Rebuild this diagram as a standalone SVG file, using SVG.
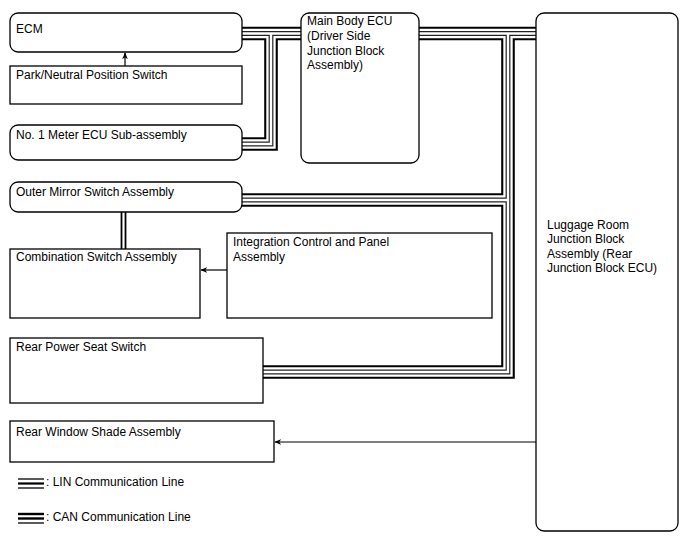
<svg xmlns="http://www.w3.org/2000/svg" width="688" height="560" viewBox="0 0 688 560">
<style>
text{font-family:"Liberation Sans",Arial,sans-serif;font-size:12px;fill:#000}
.box{fill:#fff;stroke:#000;stroke-width:1.3}
.l1{fill:none;stroke:#000;stroke-width:13.6;stroke-linejoin:miter}
.l2{fill:none;stroke:#fff;stroke-width:9.4;stroke-linejoin:miter}
.l3{fill:none;stroke:#222;stroke-width:4.8;stroke-linejoin:miter}
.l4{fill:none;stroke:#fff;stroke-width:2.4;stroke-linejoin:miter}
.arr{fill:none;stroke:#000;stroke-width:1.2}
</style>
<defs>
<marker id="ah" viewBox="0 0 10 10" refX="9" refY="5" markerWidth="7" markerHeight="7" orient="auto" markerUnits="userSpaceOnUse">
<path d="M0,1 L10,5 L0,9 L3,5 Z" fill="#000"/>
</marker>
<path id="pA" d="M242,33.5 H536"/>
<path id="pB" d="M271,33.5 V144 H242"/>
<path id="pC" d="M508,33.5 V372 H263"/>
<path id="pD" d="M508,200 H242"/>
</defs>
<g id="connectors">
<use href="#pA" class="l1"/><use href="#pB" class="l1"/><use href="#pC" class="l1"/><use href="#pD" class="l1"/>
<use href="#pA" class="l2"/><use href="#pB" class="l2"/><use href="#pC" class="l2"/><use href="#pD" class="l2"/>
<use href="#pA" class="l3"/><use href="#pB" class="l3"/><use href="#pC" class="l3"/><use href="#pD" class="l3"/>
<use href="#pA" class="l4"/><use href="#pB" class="l4"/><use href="#pC" class="l4"/><use href="#pD" class="l4"/>
<line x1="121.5" y1="212" x2="121.5" y2="249" stroke="#000" stroke-width="1.8"/>
<line x1="125.5" y1="212" x2="125.5" y2="249" stroke="#000" stroke-width="1.8"/>
<line class="arr" x1="125" y1="66" x2="125" y2="53" marker-end="url(#ah)"/>
<line class="arr" x1="227" y1="270" x2="201" y2="270" marker-end="url(#ah)"/>
<line class="arr" x1="536" y1="442" x2="275" y2="442" marker-end="url(#ah)"/>
</g>
<g id="ecm"><rect class="box" x="10" y="13" width="232" height="39" rx="8"/><text x="16" y="33">ECM</text></g>
<g id="park"><rect class="box" x="10" y="66" width="232" height="38"/><text x="16" y="79">Park/Neutral Position Switch</text></g>
<g id="meter"><rect class="box" x="10" y="125" width="232" height="35" rx="8"/><text x="16" y="139">No. 1 Meter ECU Sub-assembly</text></g>
<g id="mainbody"><rect class="box" x="301" y="13" width="118" height="150" rx="8"/>
<text x="307" y="25">Main Body ECU</text><text x="307" y="40">(Driver Side</text><text x="307" y="55">Junction Block</text><text x="307" y="69">Assembly)</text></g>
<g id="luggage"><rect class="box" x="536" y="13" width="142" height="518" rx="8"/>
<text x="547" y="229">Luggage Room</text><text x="547" y="243">Junction Block</text><text x="547" y="258">Assembly (Rear</text><text x="547" y="272">Junction Block ECU)</text></g>
<g id="mirror"><rect class="box" x="10" y="182" width="232" height="30" rx="8"/><text x="16" y="196">Outer Mirror Switch Assembly</text></g>
<g id="combination"><rect class="box" x="10" y="249" width="190" height="69"/><text x="16" y="261">Combination Switch Assembly</text></g>
<g id="integration"><rect class="box" x="227" y="233" width="265" height="85"/><text x="233" y="246">Integration Control and Panel</text><text x="233" y="261">Assembly</text></g>
<g id="rearseat"><rect class="box" x="10" y="338" width="253" height="65"/><text x="16" y="351">Rear Power Seat Switch</text></g>
<g id="rearwindow"><rect class="box" x="10" y="421" width="264" height="41"/><text x="16" y="436">Rear Window Shade Assembly</text></g>
<g id="legend">
<line x1="18" y1="479" x2="44" y2="479" stroke="#000" stroke-width="1.3"/>
<line x1="18" y1="483.5" x2="44" y2="483.5" stroke="#000" stroke-width="2.2"/>
<line x1="18" y1="488" x2="44" y2="488" stroke="#000" stroke-width="1.3"/>
<text x="46" y="486">: LIN Communication Line</text>
<line x1="18" y1="514" x2="44" y2="514" stroke="#000" stroke-width="2.4"/>
<line x1="18" y1="518.5" x2="44" y2="518.5" stroke="#000" stroke-width="2.4"/>
<line x1="18" y1="523" x2="44" y2="523" stroke="#333" stroke-width="1.6"/>
<text x="46" y="521">: CAN Communication Line</text>
</g>
</svg>
